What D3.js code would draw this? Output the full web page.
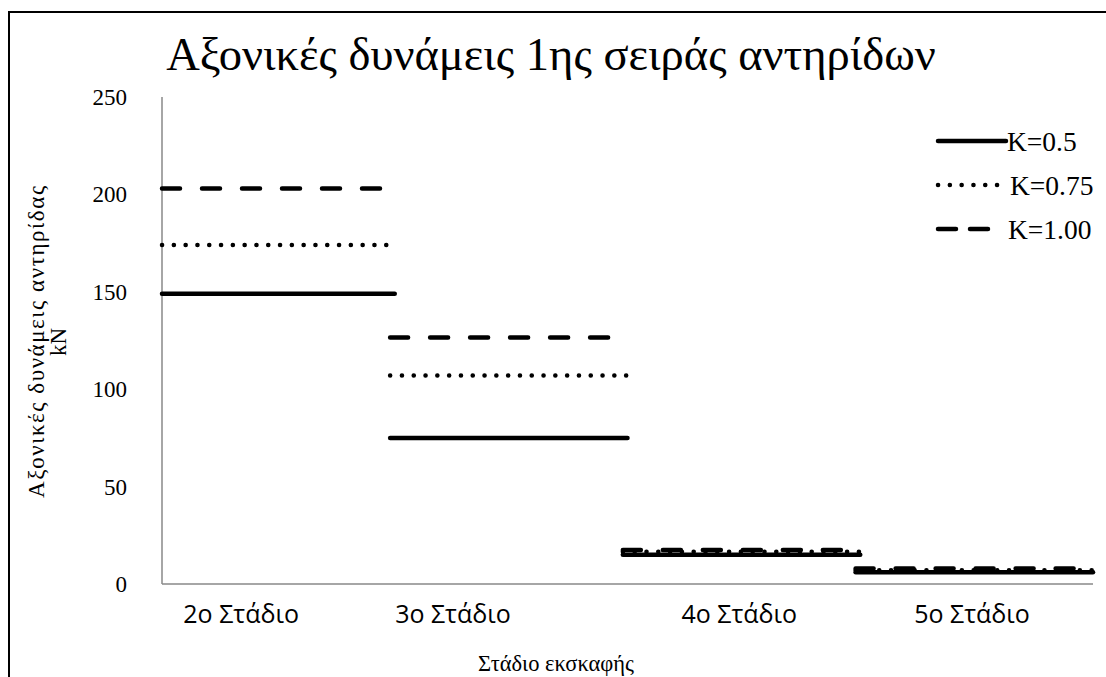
<!DOCTYPE html>
<html><head><meta charset="utf-8">
<script src="https://cdn.jsdelivr.net/npm/d3@7/dist/d3.min.js"></script>
<style>body{margin:0;background:#fff}svg{display:block}</style>
</head><body><svg id="c" width="1106" height="677"></svg>
<script>
const stages = ["2ο Στάδιο", "3ο Στάδιο", "4ο Στάδιο", "5ο Στάδιο"];
const tickPos = [0.34, 1.25, 2.48, 3.48];
const seriesNames = ["K=0.5", "K=0.75", "K=1.00"];
const k050 = [149, 75, 15, 6];
const k075 = [174, 107, 16.5, 7];
const k100 = [203, 126.5, 17.5, 8];
const yTicks = [0, 50, 100, 150, 200, 250];

const svg = d3.select("#c");
const serif = "'Liberation Serif','Times New Roman',serif";
const sans = "'Open Sans','Noto Sans',sans-serif";

svg.append("rect").attr("x", 9).attr("y", 12).attr("width", 1120).attr("height", 700)
  .attr("fill", "#fff").attr("stroke", "#000").attr("stroke-width", 2);

const x = d3.scaleLinear().domain([0, 4]).range([162, 1093]);
const y = d3.scaleLinear().domain([0, 250]).range([584, 97]);

// axes
svg.append("line").attr("x1", x(0)).attr("x2", x(0)).attr("y1", y(250)).attr("y2", y(0))
  .attr("stroke", "#888").attr("stroke-width", 1.5);
svg.append("line").attr("x1", x(0)).attr("x2", x(4)).attr("y1", y(0)).attr("y2", y(0))
  .attr("stroke", "#888").attr("stroke-width", 1.5);

svg.selectAll(".yt").data(yTicks).join("text").attr("class", "yt")
  .attr("x", 127).attr("y", d => y(d)).attr("dy", "0.35em").attr("text-anchor", "end")
  .attr("font-family", serif).attr("font-size", 23).text(d => d);

svg.selectAll(".xt").data(stages).join("text").attr("class", "xt")
  .attr("x", (d, i) => x(tickPos[i])).attr("y", 623).attr("text-anchor", "middle")
  .attr("font-family", sans).attr("font-size", 25).text(d => d);

svg.append("text").attr("x", 556).attr("y", 671).attr("text-anchor", "middle")
  .attr("font-family", serif).attr("font-size", 22.5).text("Στάδιο εκσκαφής");

const yl = svg.append("text").attr("transform", "translate(0,342) rotate(-90)")
  .attr("font-family", serif).attr("font-size", 23).attr("text-anchor", "middle");
yl.append("tspan").attr("x", 0).attr("y", 44).attr("textLength", 312).attr("lengthAdjust", "spacing")
  .text("Αξονικές δυνάμεις αντηρίδας");
yl.append("tspan").attr("x", 0).attr("y", 66).text("kN");

svg.append("text").attr("x", 551).attr("y", 70).attr("text-anchor", "middle")
  .attr("font-family", serif).attr("font-size", 46.5).text("Αξονικές δυνάμεις 1ης σειράς αντηρίδων");

const styles = [
  {dash: null},
  {dash: "0.1,11.7"},
  {dash: "18,22"}
];
const series = [k050, k075, k100];
series.forEach((vals, si) => {
  svg.selectAll(".s" + si).data(vals).join("line").attr("class", "s" + si)
    .attr("x1", (d, i) => x(i === 0 ? 0 : i - 0.02)).attr("x2", (d, i) => x(i + 1))
    .attr("y1", d => y(d)).attr("y2", d => y(d))
    .attr("stroke", "#000").attr("stroke-width", 4.5).attr("stroke-linecap", "round")
    .attr("stroke-dasharray", styles[si].dash);
});

// legend
const lg = svg.append("g");
const lx0 = [938, 938, 938], lx1 = [1006, 998, 996], ly = [141, 185, 229], tx = [1007, 1010, 1008];
seriesNames.forEach((n, i) => {
  lg.append("line").attr("x1", lx0[i]).attr("x2", lx1[i]).attr("y1", ly[i]).attr("y2", ly[i])
    .attr("stroke", "#000").attr("stroke-width", 4.5).attr("stroke-linecap", "round")
    .attr("stroke-dasharray", i === 1 ? "0.1,11.7" : i === 2 ? "18,14" : null);
  lg.append("text").attr("x", tx[i]).attr("y", ly[i]).attr("dy", "0.35em")
    .attr("font-family", serif).attr("font-size", 27.5).text(n);
});
</script></body></html>
